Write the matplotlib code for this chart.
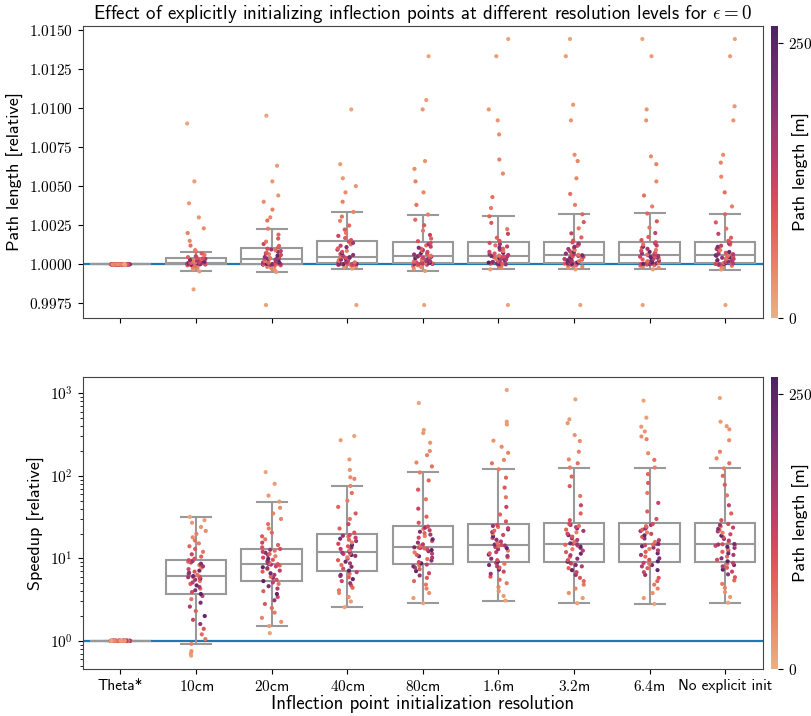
import numpy as np
import pandas as pd
import matplotlib
matplotlib.use('Agg')
import matplotlib.pyplot as plt
import seaborn as sns
from matplotlib.ticker import FuncFormatter
from matplotlib.colors import Normalize
from matplotlib.cm import ScalarMappable

plt.rcParams['font.family'] = ['cmss10', 'DejaVu Sans']
plt.rcParams['mathtext.fontset'] = 'cm'
plt.rcParams['axes.unicode_minus'] = False

labels = ['Theta*', '$10$cm', '$20$cm', '$40$cm', '$80$cm',
          '$1.6$m', '$3.2$m', '$6.4$m', 'No explicit init']

# path length [m] of each test instance (instances ranked by result)
path_len = [14, 22, 35, 48, 60, 75,
            95, 180, 120, 240, 88, 150, 210, 66, 135, 255,
            110, 198, 72, 160, 230, 92, 140, 58, 185, 248,
            125, 80, 170, 105, 220, 64, 145, 190, 98, 236,
            118, 52, 165, 84, 205, 130, 70, 175, 112,
            102, 86, 125, 62, 94, 78, 55, 68, 44, 50, 38, 30, 26, 20, 12]

# relative path length per resolution
rel_theta = [1.0] * 60
rel_10cm = [0.9984, 0.99955, 0.99968, 0.99978, 0.99985, 0.99990, 0.99994, 0.99997, 0.99999, 1.00000,
            1.00000, 1.00001, 1.00002, 1.00003, 1.00004, 1.00004, 1.00005, 1.00006, 1.00006, 1.00007,
            1.00007, 1.00008, 1.00008, 1.00009, 1.00009, 1.00010, 1.00010, 1.00010, 1.00011, 1.00011,
            1.00012, 1.00013, 1.00014, 1.00015, 1.00017, 1.00018, 1.00020, 1.00022, 1.00024, 1.00026,
            1.00028, 1.00030, 1.00033, 1.00035, 1.00038, 1.00041, 1.00046, 1.00052, 1.00060, 1.00070,
            1.00082, 1.00091, 1.0012, 1.0015, 1.0020, 1.0023, 1.0030, 1.0039, 1.0053, 1.0090]
rel_20cm = [0.9974, 0.99951, 0.99965, 0.99976, 0.99984, 0.99990, 0.99994, 0.99997, 0.99999, 1.00000,
            1.00000, 1.00001, 1.00002, 1.00002, 1.00003, 1.00004, 1.00006, 1.00008, 1.00010, 1.00012,
            1.00014, 1.00016, 1.00019, 1.00022, 1.00025, 1.00027, 1.00029, 1.00031, 1.00033, 1.00035,
            1.00037, 1.00040, 1.00043, 1.00047, 1.00051, 1.00055, 1.00060, 1.00065, 1.00070, 1.00075,
            1.00080, 1.00085, 1.00090, 1.00095, 1.00100, 1.00108, 1.00118, 1.00130, 1.00145, 1.00165,
            1.00190, 1.00228, 1.0028, 1.0030, 1.0035, 1.0040, 1.0044, 1.0053, 1.0063, 1.0095]
rel_40cm = [0.9974, 0.99973, 0.99982, 0.99988, 0.99992, 0.99995, 0.99997, 0.99999, 1.00000, 1.00001,
            1.00001, 1.00002, 1.00003, 1.00004, 1.00005, 1.00006, 1.00008, 1.00010, 1.00012, 1.00015,
            1.00018, 1.00021, 1.00024, 1.00027, 1.00030, 1.00033, 1.00036, 1.00039, 1.00042, 1.00044,
            1.00046, 1.00050, 1.00055, 1.00060, 1.00066, 1.00072, 1.00079, 1.00086, 1.00094, 1.00102,
            1.00110, 1.00119, 1.00128, 1.00137, 1.00145, 1.00155, 1.00168, 1.00182, 1.00200, 1.00222,
            1.00248, 1.00278, 1.00305, 1.00335, 1.0040, 1.0046, 1.0050, 1.0055, 1.0064, 1.0099]
rel_80cm = [0.9974, 0.99958, 0.99972, 0.99982, 0.99989, 0.99994, 0.99997, 1.00000, 1.00002, 1.00003,
            1.00005, 1.00006, 1.00007, 1.00008, 1.00010, 1.00011, 1.00013, 1.00015, 1.00018, 1.00021,
            1.00024, 1.00027, 1.00030, 1.00033, 1.00036, 1.00039, 1.00042, 1.00045, 1.00048, 1.00050,
            1.00052, 1.00055, 1.00059, 1.00063, 1.00068, 1.00073, 1.00079, 1.00085, 1.00092, 1.00099,
            1.00106, 1.00113, 1.00121, 1.00129, 1.00137, 1.00148, 1.00165, 1.00188, 1.00215, 1.00250,
            1.00285, 1.00318, 1.0038, 1.0046, 1.0053, 1.0061, 1.0066, 1.0099, 1.0105, 1.0133]
rel_1_6m = [0.9974, 0.99968, 0.99978, 0.99985, 0.99990, 0.99994, 0.99997, 1.00000, 1.00001, 1.00003,
            1.00004, 1.00005, 1.00007, 1.00008, 1.00009, 1.00011, 1.00013, 1.00016, 1.00019, 1.00022,
            1.00025, 1.00028, 1.00031, 1.00034, 1.00037, 1.00040, 1.00043, 1.00046, 1.00049, 1.00051,
            1.00053, 1.00056, 1.00060, 1.00064, 1.00069, 1.00074, 1.00080, 1.00086, 1.00093, 1.00100,
            1.00107, 1.00114, 1.00121, 1.00129, 1.00137, 1.00150, 1.00170, 1.00195, 1.00225, 1.00265,
            1.00307, 1.0036, 1.0043, 1.0058, 1.0067, 1.0083, 1.0092, 1.0099, 1.0133, 1.0144]
rel_3_2m = [0.9974, 0.99968, 0.99979, 0.99986, 0.99991, 0.99995, 0.99998, 1.00000, 1.00002, 1.00003,
            1.00005, 1.00006, 1.00007, 1.00009, 1.00010, 1.00012, 1.00014, 1.00017, 1.00020, 1.00023,
            1.00026, 1.00030, 1.00034, 1.00038, 1.00042, 1.00045, 1.00048, 1.00051, 1.00054, 1.00056,
            1.00058, 1.00061, 1.00065, 1.00069, 1.00074, 1.00079, 1.00085, 1.00091, 1.00098, 1.00105,
            1.00112, 1.00119, 1.00126, 1.00133, 1.00140, 1.00152, 1.00172, 1.00198, 1.00230, 1.00270,
            1.00320, 1.0038, 1.0045, 1.0055, 1.0066, 1.0070, 1.0092, 1.0102, 1.0133, 1.0144]
rel_6_4m = [0.9974, 0.99968, 0.99978, 0.99986, 0.99991, 0.99995, 0.99998, 1.00000, 1.00001, 1.00003,
            1.00004, 1.00006, 1.00007, 1.00008, 1.00010, 1.00012, 1.00014, 1.00017, 1.00020, 1.00023,
            1.00027, 1.00031, 1.00035, 1.00039, 1.00043, 1.00046, 1.00049, 1.00052, 1.00054, 1.00056,
            1.00058, 1.00062, 1.00066, 1.00070, 1.00075, 1.00080, 1.00086, 1.00092, 1.00099, 1.00106,
            1.00113, 1.00120, 1.00127, 1.00134, 1.00141, 1.00155, 1.00175, 1.00200, 1.00235, 1.00275,
            1.00325, 1.0037, 1.0044, 1.0053, 1.0064, 1.0069, 1.0092, 1.0099, 1.0133, 1.0144]
rel_none = [0.9974, 0.99967, 0.99978, 0.99985, 0.99991, 0.99995, 0.99998, 1.00000, 1.00002, 1.00003,
            1.00004, 1.00006, 1.00007, 1.00009, 1.00010, 1.00012, 1.00015, 1.00018, 1.00021, 1.00024,
            1.00027, 1.00031, 1.00035, 1.00039, 1.00042, 1.00045, 1.00048, 1.00051, 1.00054, 1.00056,
            1.00058, 1.00061, 1.00065, 1.00069, 1.00074, 1.00079, 1.00085, 1.00091, 1.00098, 1.00105,
            1.00112, 1.00119, 1.00126, 1.00133, 1.00140, 1.00150, 1.00170, 1.00195, 1.00228, 1.00268,
            1.00320, 1.0037, 1.0046, 1.0056, 1.0065, 1.0070, 1.0092, 1.0101, 1.0133, 1.0144]

# speedup relative to Theta*
spd_theta = [1.0] * 60
spd_10cm = [0.66, 0.70, 0.75, 0.92, 1.05, 1.2, 1.4, 1.6, 1.8, 2.0,
            2.3, 2.6, 2.9, 3.2, 3.5, 3.7, 3.9, 4.1, 4.3, 4.5,
            4.7, 4.9, 5.1, 5.3, 5.5, 5.7, 5.8, 5.9, 5.9, 6.0,
            6.1, 6.3, 6.5, 6.7, 6.9, 7.1, 7.4, 7.7, 8.0, 8.3,
            8.6, 8.9, 9.1, 9.3, 9.5, 9.9, 10.5, 11.2, 12.0, 13.0,
            14.0, 15.2, 16.5, 18.0, 19.8, 21.5, 24.0, 27.0, 29.0, 31.8]
spd_20cm = [1.24, 1.51, 1.7, 1.9, 2.2, 2.5, 2.8, 3.1, 3.4, 3.7,
            4.0, 4.3, 4.6, 4.9, 5.1, 5.3, 5.5, 5.8, 6.0, 6.3,
            6.6, 6.9, 7.1, 7.4, 7.6, 7.8, 8.0, 8.2, 8.4, 8.5,
            8.6, 8.8, 9.0, 9.3, 9.6, 9.9, 10.2, 10.6, 11.0, 11.3,
            11.7, 12.0, 12.4, 12.7, 13.0, 13.6, 14.5, 15.5, 17.0, 18.5,
            20.5, 23.0, 26.0, 30.0, 35.0, 41.0, 48.7, 57.6, 80.0, 111.0]
spd_40cm = [2.56, 3.0, 3.4, 3.8, 4.1, 4.4, 4.7, 5.0, 5.3, 5.6,
            5.9, 6.1, 6.3, 6.5, 6.8, 7.1, 7.5, 7.9, 8.3, 8.7,
            9.1, 9.5, 9.9, 10.3, 10.7, 11.0, 11.3, 11.5, 11.7, 11.9,
            12.1, 12.5, 13.0, 13.5, 14.0, 14.5, 15.0, 15.6, 16.2, 16.8,
            17.3, 17.8, 18.3, 18.8, 19.2, 20.5, 23.0, 26.0, 30.0, 35.0,
            42.0, 50.0, 62.0, 75.4, 92.0, 96.0, 118.0, 158.0, 270.0, 304.0]
spd_80cm = [2.86, 3.3, 3.8, 4.3, 4.8, 5.3, 5.8, 6.2, 6.6, 7.0,
            7.4, 7.7, 8.0, 8.2, 8.4, 8.7, 9.0, 9.4, 9.8, 10.2,
            10.6, 11.0, 11.4, 11.8, 12.2, 12.6, 12.9, 13.2, 13.4, 13.5,
            13.6, 14.2, 14.8, 15.5, 16.2, 17.0, 17.8, 18.6, 19.4, 20.2,
            21.0, 21.9, 22.8, 23.6, 24.3, 27.0, 32.0, 40.0, 52.0, 68.0,
            88.0, 110.0, 130.0, 145.0, 178.0, 200.0, 252.0, 330.0, 360.0, 763.0]
spd_1_6m = [3.08, 3.5, 4.0, 4.5, 5.0, 5.5, 6.0, 6.5, 6.9, 7.3,
            7.7, 8.0, 8.3, 8.6, 8.8, 9.1, 9.5, 9.9, 10.3, 10.7,
            11.1, 11.5, 11.9, 12.4, 12.9, 13.3, 13.7, 14.0, 14.3, 14.5,
            14.7, 15.3, 16.0, 16.8, 17.6, 18.4, 19.2, 20.0, 20.8, 21.6,
            22.4, 23.2, 24.0, 24.7, 25.4, 28.0, 34.0, 42.0, 55.0, 72.0,
            95.0, 120.0, 142.0, 156.0, 190.0, 225.0, 267.0, 420.0, 453.0, 1098.0]
spd_3_2m = [2.86, 3.3, 3.8, 4.3, 4.8, 5.3, 5.8, 6.3, 6.8, 7.2,
            7.6, 8.0, 8.3, 8.6, 8.8, 9.1, 9.5, 9.9, 10.4, 10.9,
            11.4, 11.9, 12.4, 12.9, 13.4, 13.9, 14.3, 14.6, 14.8, 15.0,
            15.2, 15.9, 16.7, 17.5, 18.3, 19.1, 19.9, 20.7, 21.5, 22.3,
            23.1, 23.9, 24.7, 25.4, 26.1, 29.0, 35.0, 44.0, 57.0, 75.0,
            98.0, 126.0, 142.0, 158.0, 196.0, 264.0, 312.0, 435.0, 484.0, 845.0]
spd_6_4m = [2.80, 3.3, 3.8, 4.3, 4.8, 5.3, 5.8, 6.3, 6.8, 7.2,
            7.6, 8.0, 8.3, 8.6, 8.8, 9.2, 9.6, 10.0, 10.5, 11.0,
            11.5, 12.0, 12.5, 13.0, 13.5, 14.0, 14.4, 14.7, 14.9, 15.0,
            15.1, 15.8, 16.6, 17.4, 18.2, 19.0, 19.8, 20.6, 21.4, 22.2,
            23.0, 23.8, 24.6, 25.4, 26.1, 30.0, 37.0, 47.0, 62.0, 82.0,
            105.0, 126.0, 156.0, 188.0, 278.0, 300.0, 345.0, 394.0, 507.0, 815.0]
spd_none = [2.90, 3.4, 3.9, 4.4, 4.9, 5.4, 5.9, 6.4, 6.9, 7.3,
            7.7, 8.0, 8.3, 8.6, 8.8, 9.2, 9.6, 10.0, 10.5, 11.0,
            11.5, 12.0, 12.5, 13.0, 13.4, 13.8, 14.2, 14.5, 14.7, 14.8,
            14.9, 15.6, 16.4, 17.2, 18.0, 18.8, 19.6, 20.4, 21.2, 22.0,
            22.8, 23.6, 24.4, 25.3, 26.1, 29.0, 35.0, 44.0, 58.0, 78.0,
            100.0, 123.0, 142.0, 163.0, 196.0, 270.0, 366.0, 400.0, 453.0, 877.0]

rel_len = [rel_theta, rel_10cm, rel_20cm, rel_40cm, rel_80cm, rel_1_6m, rel_3_2m, rel_6_4m, rel_none]
speedup = [spd_theta, spd_10cm, spd_20cm, spd_40cm, spd_80cm, spd_1_6m, spd_3_2m, spd_6_4m, spd_none]


def long_form(series):
    rows = []
    for lab, vals in zip(labels, series):
        for v, p in zip(vals, path_len):
            rows.append((lab, v, p))
    return pd.DataFrame(rows, columns=['res', 'val', 'plen'])


df_rel = long_form(rel_len)
df_spd = long_form(speedup)

cmap = sns.color_palette('flare', as_cmap=True)
norm = Normalize(0, 266)
np.random.seed(3)

fig = plt.figure(figsize=(8.12, 7.16), dpi=100)
ax1 = fig.add_axes([0.1018, 0.5554, 0.8379, 0.4087])
ax2 = fig.add_axes([0.1018, 0.0656, 0.8379, 0.4083])
cax1 = fig.add_axes([0.9495, 0.5554, 0.009, 0.4087])
cax2 = fig.add_axes([0.9495, 0.0656, 0.009, 0.4083])

for ax, df, logy in [(ax1, df_rel, False), (ax2, df_spd, True)]:
    ax.axhline(1.0, color='#1f77b4', lw=1.6, zorder=0.5)
    sns.boxplot(data=df, x='res', y='val', order=labels, color='white',
                linecolor='#999999', linewidth=1.5, width=0.8,
                showfliers=False, log_scale=logy, ax=ax)
    sns.stripplot(data=df, x='res', y='val', order=labels, hue='plen',
                  palette=cmap, hue_norm=norm, size=3.0, jitter=0.13,
                  legend=False, ax=ax, zorder=3)
    ax.set_xlim(-0.5, 8.5)
    ax.tick_params(labelsize=11)
    for s in ax.spines.values():
        s.set_color('#444444')

ax1.set_xlabel('')
ax1.set_xticklabels([])
ax1.set_ylabel('Path length [relative]', fontsize=13)
ax1.yaxis.set_major_formatter(FuncFormatter(lambda v, p: f'${v:.4f}$'))
ax1.set_title(r'Effect of explicitly initializing inflection points at different resolution levels for $\epsilon = 0$',
              fontsize=13.6, pad=5)

ax2.set_ylabel('Speedup [relative]', fontsize=13)
ax2.set_xlabel('Inflection point initialization resolution', fontsize=13.5, labelpad=1)
ax2.yaxis.set_major_formatter(FuncFormatter(lambda v, p: f'$10^{{{int(round(np.log10(v)))}}}$'))

for cax in (cax1, cax2):
    cb = fig.colorbar(ScalarMappable(norm=norm, cmap=cmap), cax=cax)
    cb.set_ticks([0, 250])
    cb.ax.yaxis.set_major_formatter(FuncFormatter(lambda v, p: f'${v:.0f}$'))
    cb.ax.tick_params(labelsize=11)
    cb.outline.set_visible(False)
    cb.set_label('Path length [m]', fontsize=13, labelpad=-14)

fig.savefig('out.png', dpi=100)
